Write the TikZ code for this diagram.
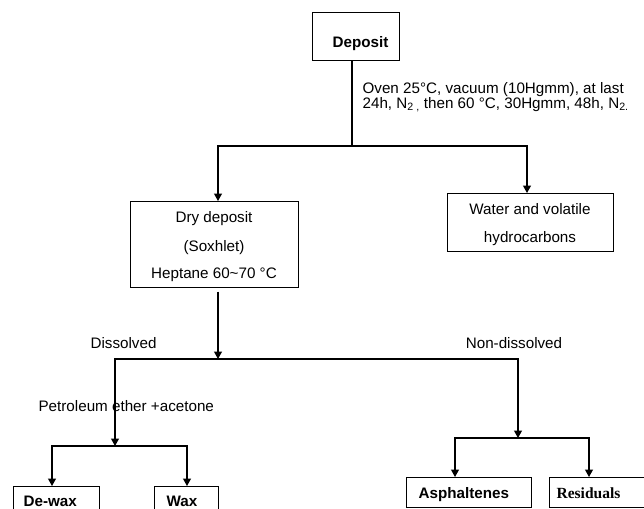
\documentclass[tikz,border=0pt]{standalone}
\usepackage{fontspec}
\setmainfont{Liberation Sans}
\newfontfamily\timesfont{Liberation Serif}
\usetikzlibrary{arrows.meta}
\begin{document}
\begin{tikzpicture}[x=1pt,y=-1pt,
  line width=1.2pt,
  box/.style={draw, line width=1.2pt, inner sep=0pt, anchor=north west},
  lbl/.style={inner sep=0pt, font=\fontsize{15.2}{18}\selectfont},
  blbl/.style={inner sep=0pt, font=\fontsize{15.2}{18}\selectfont\bfseries},
  arr/.style={-{Triangle[length=7.5pt,width=8pt]}},
]
\fill[white] (0,0) rectangle (644,508);
\useasboundingbox (0,0) rectangle (644,508);

% boxes
\node[box, minimum width=87pt, minimum height=48pt] (deposit) at (312,12) {};
\node[blbl, anchor=base west] (depositt) at (332,47.7) {Deposit};

\node[box, minimum width=168pt, minimum height=86pt] (dry) at (130,201) {};
\node[lbl, anchor=base] (dry1) at (214,222.7) {Dry deposit};
\node[lbl, anchor=base] (dry2) at (214,251.7) {(Soxhlet)};
\node[lbl, anchor=base] (dry3) at (214,278.3) {Heptane 60\textasciitilde70 °C};

\node[box, minimum width=166pt, minimum height=58pt] (water) at (447,193) {};
\node[lbl, anchor=base] (water1) at (530,214) {Water and volatile};
\node[lbl, anchor=base] (water2) at (530,242.5) {hydrocarbons};

\node[lbl, anchor=base west] (oven1) at (362,94) {Oven 25°C, vacuum (10Hgmm), at last};
\node[lbl, anchor=base west] (oven2) at (362,108) {24h, N\textsubscript{2 ,} then 60 °C, 30Hgmm, 48h, N\textsubscript{2.}};

\node[lbl, anchor=base west] (dissolved) at (90,348) {Dissolved};
\node[lbl, anchor=base] (nondis) at (514,348) {Non-dissolved};
\node[lbl, anchor=base west] (petrol) at (38,411) {Petroleum ether +acetone};

\node[box, minimum width=86pt, minimum height=36pt] (dewax) at (13,486) {};
\node[blbl, anchor=base west] (dewaxt) at (23,506) {De-wax};
\node[box, minimum width=64pt, minimum height=36pt] (wax) at (154,486) {};
\node[blbl, anchor=base west] (waxt) at (166,506) {Wax};
\node[box, minimum width=125pt, minimum height=30pt] (asph) at (406,477) {};
\node[blbl, anchor=base west] (asphalt) at (418,498.3) {Asphaltenes};
\node[box, minimum width=95pt, minimum height=30pt] (resid) at (549,477) {};
\node[inner sep=0pt, font=\fontsize{15.5}{18}\selectfont\timesfont\bfseries, anchor=base west] (residt) at (556,498.3) {Residuals};

% connectors
\coordinate (j1) at (352,146);
\coordinate (j1l) at (218,146);
\coordinate (j1r) at (527,146);
\draw (deposit.south -| j1) -- (j1);
\draw[arr] (j1r) -- (j1l) -- (dry.north -| j1l);
\draw[arr] (j1l) -- (j1r) -- (water.north -| j1r);

\coordinate (j2top) at (218,291.5);
\coordinate (j2) at (218,359);
\coordinate (j2l) at (115,359);
\coordinate (j2r) at (518,359);
\draw[arr] (j2top) -- (j2);

\coordinate (j3) at (115,446);
\coordinate (j3l) at (52,446);
\coordinate (j3r) at (187,446);
\draw[arr] (j2r) -- (j2l) -- (j3);
\draw[arr] (j3r) -- (j3l) -- (dewax.north -| j3l);
\draw[arr] (j3l) -- (j3r) -- (wax.north -| j3r);

\coordinate (j4) at (518,438);
\coordinate (j4l) at (455,438);
\coordinate (j4r) at (589,438);
\draw[arr] (j2l) -- (j2r) -- (j4);
\draw[arr] (j4r) -- (j4l) -- (asph.north -| j4l);
\draw[arr] (j4l) -- (j4r) -- (resid.north -| j4r);
\end{tikzpicture}
\end{document}
